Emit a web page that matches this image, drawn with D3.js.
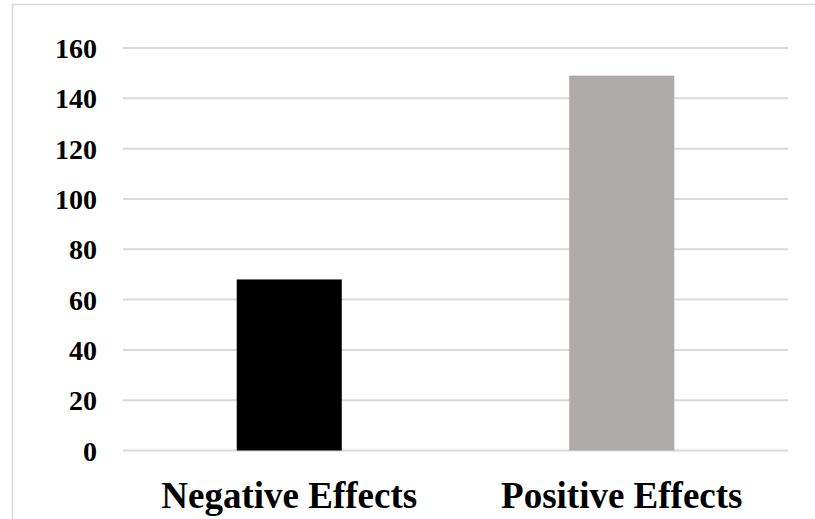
<!DOCTYPE html>
<html>
<head>
<meta charset="utf-8">
<script src="https://cdn.jsdelivr.net/npm/d3@7"></script>
<style>
  html, body { margin: 0; padding: 0; background: #fff; }
  svg { display: block; }
  text { font-family: "Liberation Serif", "Times New Roman", serif; font-weight: bold; fill: #000; }
</style>
</head>
<body>
<svg id="chart" width="815" height="519"></svg>
<script>
const categories = ["Negative Effects", "Positive Effects"];
const values = [68, 149];
const barColors = ["#000000", "#AEAAAA"];
const yTicks = [0, 20, 40, 60, 80, 100, 120, 140, 160];

const W = 815, H = 519;
const plot = { left: 123, right: 788, top: 48, bottom: 450.5 };

const svg = d3.select("#chart");

// outer chart border (extends off right and bottom)
svg.append("rect")
  .attr("x", 12.5).attr("y", 4.5)
  .attr("width", 820).attr("height", 530)
  .attr("fill", "none")
  .attr("stroke", "#D9D9D9")
  .attr("stroke-width", 1.5);

const x = d3.scaleBand()
  .domain(categories)
  .range([plot.left, plot.right])
  .paddingInner(0.684)
  .paddingOuter(0.342);

const y = d3.scaleLinear()
  .domain([0, 160])
  .range([plot.bottom, plot.top]);

// gridlines
svg.append("g")
  .selectAll("line")
  .data(yTicks)
  .join("line")
  .attr("x1", plot.left).attr("x2", plot.right)
  .attr("y1", d => y(d)).attr("y2", d => y(d))
  .attr("stroke", "#D9D9D9")
  .attr("stroke-width", 2);

// bars
svg.append("g")
  .selectAll("rect")
  .data(categories)
  .join("rect")
  .attr("x", d => x(d))
  .attr("width", x.bandwidth())
  .attr("y", (d, i) => y(values[i]))
  .attr("height", (d, i) => y(0) - y(values[i]))
  .attr("fill", (d, i) => barColors[i]);

// y axis labels
const yAxis = d3.axisLeft(y).tickValues(yTicks).tickSize(0).tickPadding(0);
const gy = svg.append("g")
  .attr("transform", `translate(97,0)`)
  .call(yAxis);
gy.select(".domain").remove();
gy.selectAll("text")
  .attr("dy", "0.34em")
  .style("font-family", '"Liberation Serif", "Times New Roman", serif')
  .style("font-weight", "bold")
  .style("font-size", "28px")
  .attr("fill", "#000");

// x axis labels
const xAxis = d3.axisBottom(x).tickSize(0).tickPadding(0);
const gx = svg.append("g")
  .attr("transform", `translate(0,508)`)
  .call(xAxis);
gx.select(".domain").remove();
gx.selectAll("text")
  .attr("dy", "0")
  .attr("y", 0)
  .style("font-family", '"Liberation Serif", "Times New Roman", serif')
  .style("font-weight", "bold")
  .style("font-size", "37px")
  .attr("fill", "#000");
</script>
</body>
</html>
